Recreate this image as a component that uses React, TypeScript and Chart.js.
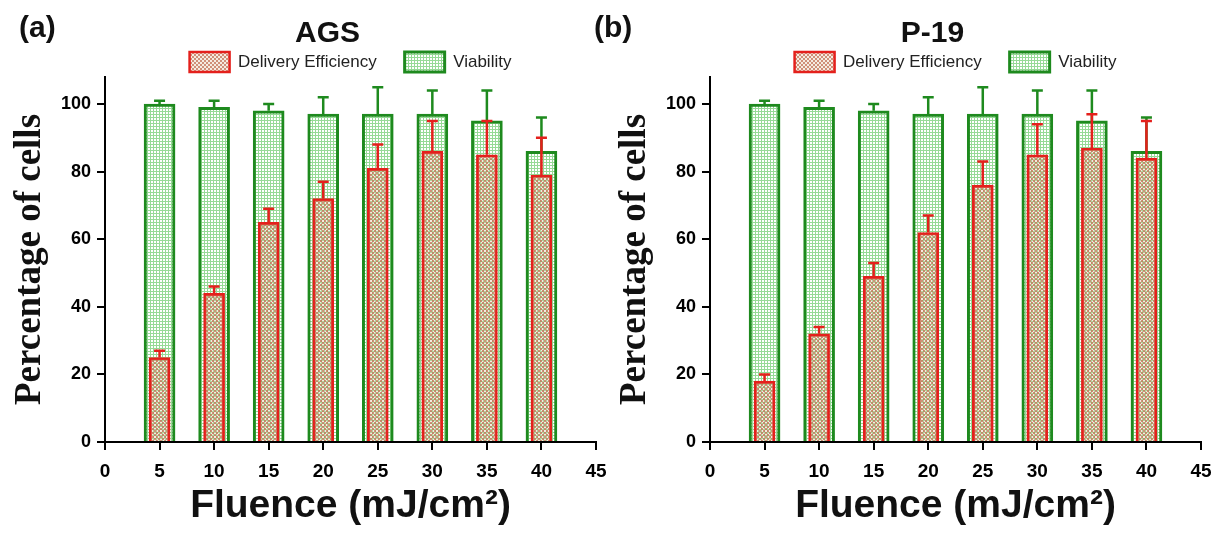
import React, { useEffect, useRef } from "react";
import { Chart, registerables } from "chart.js";

Chart.register(...registerables);

// ---------- data ----------
const FLUENCE = [5, 10, 15, 20, 25, 30, 35, 40];
const X_TICKS = [0, 5, 10, 15, 20, 25, 30, 35, 40, 45];
const Y_TICKS = [0, 20, 40, 60, 80, 100];

const AGS_DELIVERY = [25, 44, 65, 72, 81, 86, 85, 79];
const AGS_DELIVERY_ERR = [2, 2, 4, 5, 7, 9, 10, 11];
const AGS_VIABILITY = [100, 99, 98, 97, 97, 97, 95, 86];
const AGS_VIABILITY_ERR = [1, 2, 2, 5, 8, 7, 9, 10];

const P19_DELIVERY = [18, 32, 49, 62, 76, 85, 87, 84];
const P19_DELIVERY_ERR = [2, 2, 4, 5, 7, 9, 10, 11];
const P19_VIABILITY = [100, 99, 98, 97, 97, 97, 95, 86];
const P19_VIABILITY_ERR = [1, 2, 2, 5, 8, 7, 9, 10];

const SERIES_LABELS = ["Delivery Efficiency", "Viability"];
const X_TITLE = "Fluence (mJ/cm\u00B2)";
const Y_TITLE = "Percentage of cells";

// ---------- styling ----------
const SANS = "'Liberation Sans', Arial, sans-serif";
const SERIF = "'Liberation Serif', 'Times New Roman', serif";
const GREEN = "rgb(30,138,30)";
const RED = "rgb(228,32,28)";
const CANVAS_W = 655;
const CANVAS_H = 539;

function makeGreenPattern(ctx: CanvasRenderingContext2D) {
  const c = document.createElement("canvas");
  c.width = 3;
  c.height = 3;
  const g = c.getContext("2d")!;
  g.fillStyle = "#ffffff";
  g.fillRect(0, 0, 3, 3);
  g.fillStyle = "rgb(150,218,150)";
  g.fillRect(0, 0, 3, 1);
  g.fillRect(0, 0, 1, 3);
  return ctx.createPattern(c, "repeat")!;
}

function makeRedPattern(ctx: CanvasRenderingContext2D) {
  const c = document.createElement("canvas");
  c.width = 4;
  c.height = 4;
  const g = c.getContext("2d")!;
  g.clearRect(0, 0, 4, 4);
  g.fillStyle = "rgba(198,120,92,0.82)";
  g.fillRect(0, 0, 2, 2);
  g.fillRect(2, 2, 2, 2);
  g.fillStyle = "rgba(225,200,170,0.35)";
  g.fillRect(2, 0, 2, 2);
  g.fillRect(0, 2, 2, 2);
  return ctx.createPattern(c, "repeat")!;
}

const errorBarsPlugin = {
  id: "errorBars",
  afterDatasetDraw(chart: any, args: any) {
    const ds: any = chart.data.datasets[args.index];
    const errs: number[] | undefined = ds.errors;
    if (!errs) return;
    const yScale = chart.scales.y;
    const ctx: CanvasRenderingContext2D = chart.ctx;
    ctx.save();
    ctx.strokeStyle = ds.borderColor;
    ctx.lineWidth = 2.5;
    ctx.lineCap = "butt";
    args.meta.data.forEach((el: any, j: number) => {
      const v = ds.data[j].y;
      const top = yScale.getPixelForValue(v + errs[j]);
      ctx.beginPath();
      ctx.moveTo(el.x, el.y);
      ctx.lineTo(el.x, top);
      ctx.moveTo(el.x - 5.5, top);
      ctx.lineTo(el.x + 5.5, top);
      ctx.stroke();
    });
    ctx.restore();
  },
};

type PanelProps = {
  title: string;
  delivery: number[];
  deliveryErr: number[];
  viability: number[];
  viabilityErr: number[];
  left: number;
};

function Panel({ title, delivery, deliveryErr, viability, viabilityErr, left }: PanelProps) {
  const ref = useRef<HTMLCanvasElement | null>(null);

  useEffect(() => {
    const canvas = ref.current;
    if (!canvas) return;
    const ctx = canvas.getContext("2d")!;
    const greenPat = makeGreenPattern(ctx);
    const redPat = makeRedPattern(ctx);

    const axisCommon = {
      border: { display: true, color: "#000", width: 2 },
      grid: {
        display: true,
        drawOnChartArea: false,
        drawTicks: true,
        tickLength: 8,
        tickWidth: 2,
        tickColor: "#000",
        lineWidth: 2,
        color: "#000",
        offset: false,
      },
    };

    const chart = new Chart(ctx, {
      type: "bar",
      data: {
        datasets: [
          {
            label: SERIES_LABELS[0],
            data: FLUENCE.map((x, i) => ({ x, y: delivery[i] })),
            errors: deliveryErr,
            backgroundColor: redPat,
            borderColor: RED,
            borderWidth: 2.5,
            barThickness: 21,
            grouped: false,
            xAxisID: "x",
            yAxisID: "y",
          } as any,
          {
            label: SERIES_LABELS[1],
            data: FLUENCE.map((x, i) => ({ x, y: viability[i] })),
            errors: viabilityErr,
            backgroundColor: greenPat,
            borderColor: GREEN,
            borderWidth: 3,
            barThickness: 31,
            grouped: false,
            xAxisID: "x",
            yAxisID: "y",
          } as any,
        ],
      },
      options: {
        animation: false,
        responsive: false,
        devicePixelRatio: 1,
        layout: { padding: 0 },
        plugins: {
          title: {
            display: true,
            text: title,
            color: "#111",
            font: { family: SANS, size: 30, weight: "bold", lineHeight: 1.2 },
            padding: { top: 16, bottom: -28 },
          },
          legend: {
            display: true,
            position: "top",
            fullSize: false,
            maxHeight: 53,
            labels: {
              boxWidth: 40,
              boxHeight: 20,
              padding: 28,
              color: "#222",
              font: { family: SANS, size: 17 },
            },
          },
          tooltip: { enabled: false },
        },
        scales: {
          x: {
            type: "linear",
            position: "bottom",
            min: 0,
            max: 45,
            offset: false,
            ...axisCommon,
            afterFit: (s: any) => {
              s.height = 97;
            },
            afterBuildTicks: (s: any) => {
              s.ticks = X_TICKS.map((v) => ({ value: v }));
            },
            ticks: {
              color: "#000",
              padding: 10,
              maxRotation: 0,
              autoSkip: false,
              font: { family: SANS, size: 19, weight: "bold", lineHeight: 1.2 },
            },
            title: {
              display: true,
              text: X_TITLE,
              color: "#111",
              font: { family: SANS, size: 39, weight: "bold", lineHeight: 1.2 },
              padding: { top: 0, bottom: 9 },
            },
          },
          y: {
            type: "linear",
            position: "left",
            min: 0,
            max: 108,
            ...axisCommon,
            afterFit: (s: any) => {
              s.width = 105;
            },
            afterBuildTicks: (s: any) => {
              s.ticks = Y_TICKS.map((v) => ({ value: v }));
            },
            ticks: {
              color: "#000",
              padding: 6,
              font: { family: SANS, size: 18, weight: "bold", lineHeight: 1.2 },
            },
            title: {
              display: true,
              text: Y_TITLE,
              color: "#111",
              font: { family: SERIF, size: 37, weight: "bold", lineHeight: 1.2 },
              padding: { top: 8, bottom: 0 },
            },
          },
          yR: {
            type: "linear",
            position: "right",
            display: true,
            grid: { display: false },
            border: { display: false },
            ticks: { display: false },
            afterFit: (s: any) => {
              s.width = 59;
            },
          },
        },
      } as any,
      plugins: [errorBarsPlugin],
    });

    return () => chart.destroy();
  }, [title, delivery, deliveryErr, viability, viabilityErr]);

  return (
    <div style={{ position: "absolute", left, top: 0, width: CANVAS_W, height: CANVAS_H }}>
      <canvas ref={ref} width={CANVAS_W} height={CANVAS_H} style={{ display: "block" }} />
    </div>
  );
}

const labelStyle: React.CSSProperties = {
  position: "absolute",
  top: 12,
  fontFamily: SANS,
  fontWeight: "bold",
  fontSize: 30,
  lineHeight: "30px",
  color: "#111",
  whiteSpace: "nowrap",
};

export default function App() {
  useEffect(() => {
    document.body.style.margin = "0";
  }, []);
  return (
    <div
      style={{
        position: "fixed",
        left: 0,
        top: 0,
        width: 1229,
        height: 539,
        overflow: "hidden",
        background: "#ffffff",
      }}
    >
      <Panel
        title="AGS"
        delivery={AGS_DELIVERY}
        deliveryErr={AGS_DELIVERY_ERR}
        viability={AGS_VIABILITY}
        viabilityErr={AGS_VIABILITY_ERR}
        left={0}
      />
      <Panel
        title="P-19"
        delivery={P19_DELIVERY}
        deliveryErr={P19_DELIVERY_ERR}
        viability={P19_VIABILITY}
        viabilityErr={P19_VIABILITY_ERR}
        left={605}
      />
      <div style={{ ...labelStyle, left: 19 }}>(a)</div>
      <div style={{ ...labelStyle, left: 594 }}>(b)</div>
    </div>
  );
}
